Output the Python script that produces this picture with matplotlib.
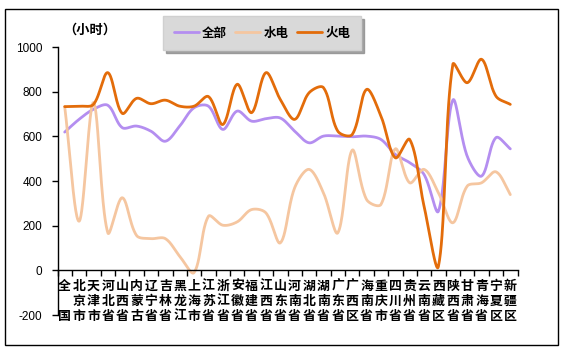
import numpy as np
import matplotlib
matplotlib.use("Agg")
import matplotlib.pyplot as plt
from matplotlib.patches import Rectangle

plt.rcParams['font.family'] = ['Noto Sans CJK SC', 'DejaVu Sans']

categories = ['全国', '北京市', '天津市', '河北省', '山西省', '内蒙古', '辽宁省', '吉林省',
              '黑龙江', '上海市', '江苏省', '浙江省', '安徽省', '福建省', '江西省', '山东省',
              '河南省', '湖北省', '湖南省', '广东省', '广西区', '海南省', '重庆市', '四川省',
              '贵州省', '云南省', '西藏区', '陕西省', '甘肃省', '青海省', '宁夏区', '新疆区']

total = [619, 676, 721, 739, 639, 646, 623, 578, 646, 728, 735, 631, 713, 668, 679, 682,
         623, 571, 601, 601, 598, 601, 586, 519, 482, 429, 265, 762, 511, 422, 594, 544]
hydro = [733, 220, 751, 168, 325, 156, 142, 142, 63, -10, 242, 202, 217, 272, 257, 123,
         370, 452, 347, 168, 538, 317, 295, 544, 392, 452, 347, 213, 377, 392, 441, 339]
thermal = [733, 735, 743, 885, 703, 770, 746, 762, 735, 735, 778, 653, 833, 706, 885, 765,
           676, 795, 818, 623, 608, 810, 691, 504, 586, 287, 18, 922, 840, 945, 780, 743]

series_names = ['全部', '水电', '火电']
series_colors = ['#B48EF0', '#F5C6A0', '#E36C0A']
yticks = [-200, 0, 200, 400, 600, 800, 1000]
unit_label = '（小时）'

# pixel scale used only for the smoothing shape (chord-length weighted Bezier)
XS, YS = 14.36, 0.2235


def smooth(xs, ys, n=40):
    P = np.column_stack([np.asarray(xs, float) * XS, np.asarray(ys, float) * YS])
    m = len(P)
    Pe = np.vstack([P[0], P, P[-1]])
    out_c = np.zeros_like(P)
    in_c = np.zeros_like(P)
    for k in range(m):
        p0, p1, p2 = Pe[k], Pe[k + 1], Pe[k + 2]
        T = p2 - p0
        d01 = np.hypot(*(p1 - p0))
        d12 = np.hypot(*(p2 - p1))
        s = d01 + d12
        if s == 0:
            out_c[k] = p1
            in_c[k] = p1
            continue
        out_c[k] = p1 + T * (d12 / s) / 3.0
        in_c[k] = p1 - T * (d01 / s) / 3.0
    t = np.linspace(0, 1, n)[:, None]
    segs = []
    for k in range(m - 1):
        a, b, c, d = P[k], out_c[k], in_c[k + 1], P[k + 1]
        seg = (1 - t) ** 3 * a + 3 * (1 - t) ** 2 * t * b + 3 * (1 - t) * t ** 2 * c + t ** 3 * d
        segs.append(seg if k == 0 else seg[1:])
    seg = np.vstack(segs)
    return seg[:, 0] / XS, seg[:, 1] / YS


W, H = 568, 355
fig = plt.figure(figsize=(W / 100, H / 100), dpi=100)
ax = fig.add_axes([57.5 / W, 1 - 315 / H, (517.5 - 57.5) / W, (315 - 47) / H])

x = np.arange(len(categories))
handles = []
for name, vals, col in zip(series_names, [total, hydro, thermal], series_colors):
    sx, sy = smooth(x, vals)
    h, = ax.plot(sx, sy, color=col, lw=2.0, solid_capstyle='round', label=name)
    handles.append(h)

ax.set_xlim(-0.5, len(categories) - 0.5)
ax.set_ylim(-200, 1000)
ax.set_yticks(yticks)
ax.set_yticklabels([str(v) for v in yticks], fontfamily=['Liberation Sans'], fontsize=8.5)
ax.tick_params(axis='y', direction='out', length=4, width=1, pad=7, color='black')

ax.spines['top'].set_visible(False)
ax.spines['right'].set_visible(False)
ax.spines['bottom'].set_position(('data', 0))
ax.spines['left'].set_linewidth(1)
ax.spines['bottom'].set_linewidth(1)

ax.set_xticks(np.arange(len(categories) + 1) - 0.5, minor=False)
ax.set_xticklabels([])
ax.set_xticks(x, minor=True)
ax.set_xticklabels(['\n'.join(c) if len(c) == 3 else c[0] + '\n \n' + c[1] for c in categories],
                   minor=True, fontsize=9.3, fontweight='bold', linespacing=1.1)
ax.tick_params(axis='x', which='major', direction='out', length=4, width=1)
ax.tick_params(axis='x', which='minor', length=0, pad=6)

fig.text(63 / W, 1 - 30 / H, unit_label, fontsize=9.5, fontweight='bold', va='center', ha='left')

leg = fig.legend(handles=handles, labels=series_names, loc='center',
                 bbox_to_anchor=(262 / W, 1 - 33 / H), ncol=3, frameon=True,
                 facecolor='#D9D9D9', edgecolor='#D0D0D0', shadow={'color': '#8C8C8C', 'alpha': 0.8},
                 fancybox=False,
                 prop={'weight': 'bold', 'size': 9}, handlelength=2.0, columnspacing=0.7,
                 handletextpad=0.25, borderpad=0.85)
leg.get_frame().set_alpha(1)

fig.patches.append(Rectangle((5 / W, 1 - 345 / H), 553 / W, 336 / H, transform=fig.transFigure,
                             fill=False, edgecolor='black', lw=1))

fig.savefig('out.png', dpi=100)
